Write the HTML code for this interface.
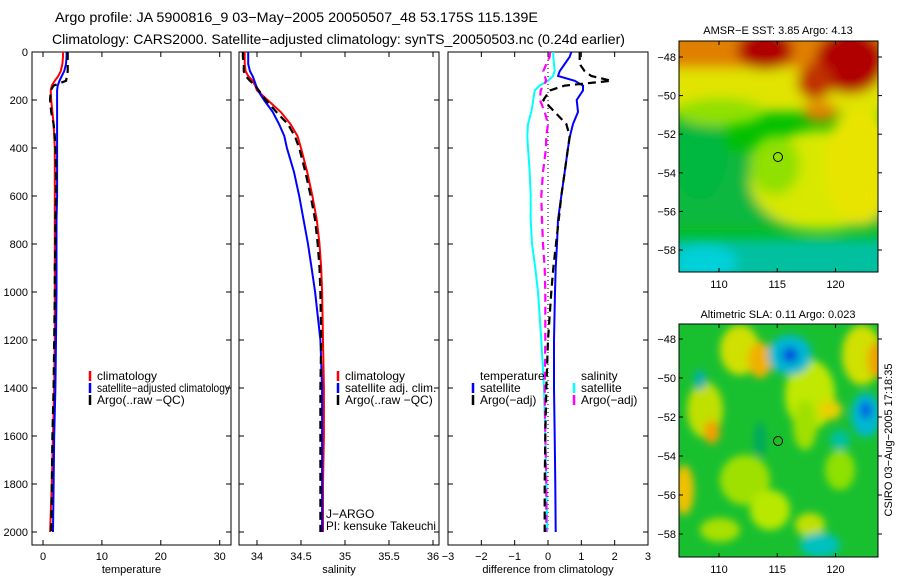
<!DOCTYPE html>
<html><head><meta charset="utf-8"><style>
html,body{margin:0;padding:0;background:#fff;}
svg{display:block;font-family:"Liberation Sans",sans-serif;}
</style></head><body>
<svg id="fig" width="900" height="580" viewBox="0 0 900 580" xmlns="http://www.w3.org/2000/svg">
<defs>
<filter id="blur1" x="-20%" y="-20%" width="140%" height="140%"><feGaussianBlur stdDeviation="6"/></filter>
<filter id="blur2" x="-20%" y="-20%" width="140%" height="140%"><feGaussianBlur stdDeviation="4"/></filter>
<clipPath id="clipMap1"><rect x="679" y="41" width="199" height="231"/></clipPath>
<clipPath id="clipMap2"><rect x="679" y="324" width="199" height="233"/></clipPath>
<clipPath id="clipP1"><rect x="32" y="52" width="199" height="493"/></clipPath>
<clipPath id="clipP2"><rect x="239" y="52" width="200" height="493"/></clipPath>
<clipPath id="clipP3"><rect x="448" y="52" width="200" height="493"/></clipPath>
</defs>
<text x="55" y="22" font-size="14" textLength="483" lengthAdjust="spacingAndGlyphs">Argo profile: JA 5900816_9 03−May−2005 20050507_48 53.175S 115.139E</text>
<text x="52" y="44" font-size="14" textLength="573" lengthAdjust="spacingAndGlyphs">Climatology: CARS2000. Satellite−adjusted climatology: synTS_20050503.nc (0.24d earlier)</text>

<!-- top map: SST -->
<g clip-path="url(#clipMap1)">
<rect x="679" y="41" width="199" height="231" fill="#00c000"/>
<g filter="url(#blur1)">
<rect x="660" y="150" width="240" height="80" fill="#10b840"/>
<ellipse cx="820" cy="180" rx="70" ry="50" fill="#d8e800"/>
<ellipse cx="860" cy="165" rx="35" ry="60" fill="#e8e400"/>
<ellipse cx="775" cy="165" rx="25" ry="30" fill="#90e000"/>
<ellipse cx="700" cy="150" rx="28" ry="50" fill="#00b840"/>
<rect x="660" y="62" width="240" height="50" fill="#e0e400"/>
<ellipse cx="720" cy="112" rx="45" ry="14" fill="#90e000"/>
<rect x="660" y="30" width="240" height="38" fill="#e08000"/>
<ellipse cx="765" cy="50" rx="28" ry="20" fill="#b00000"/>
<ellipse cx="850" cy="62" rx="35" ry="32" fill="#b00000"/>
<ellipse cx="815" cy="82" rx="18" ry="18" fill="#c03000"/>
<ellipse cx="820" cy="112" rx="18" ry="10" fill="#e08000"/>
<rect x="660" y="238" width="240" height="50" fill="#00c0a0"/>
<ellipse cx="705" cy="262" rx="32" ry="18" fill="#00d0d8"/>
</g>
</g>
<rect x="679" y="41" width="199" height="231" fill="none" stroke="#000" stroke-width="1"/>
<circle cx="778" cy="157" r="4.5" fill="none" stroke="#000" stroke-width="1"/>
<text x="778" y="34" font-size="11" text-anchor="middle">AMSR−E SST: 3.85 Argo: 4.13</text>

<!-- bottom map: SLA -->
<g clip-path="url(#clipMap2)">
<rect x="679" y="324" width="199" height="233" fill="#18c030"/>
<g filter="url(#blur2)">
<ellipse cx="740" cy="350" rx="20" ry="25" fill="#d0e000"/>
<ellipse cx="760" cy="360" rx="12" ry="18" fill="#f0b000"/>
<ellipse cx="810" cy="395" rx="25" ry="35" fill="#c0e800"/>
<ellipse cx="805" cy="425" rx="12" ry="25" fill="#a0e000"/>
<ellipse cx="830" cy="410" rx="12" ry="10" fill="#e8d000"/>
<ellipse cx="862" cy="355" rx="20" ry="30" fill="#d0e000"/>
<ellipse cx="876" cy="360" rx="8" ry="18" fill="#f0a000"/>
<ellipse cx="705" cy="410" rx="18" ry="28" fill="#c0e000"/>
<ellipse cx="712" cy="432" rx="8" ry="12" fill="#f0a000"/>
<ellipse cx="684" cy="490" rx="10" ry="25" fill="#f0c000"/>
<ellipse cx="745" cy="480" rx="25" ry="25" fill="#a0e000"/>
<ellipse cx="770" cy="510" rx="20" ry="20" fill="#b8e800"/>
<ellipse cx="810" cy="525" rx="15" ry="12" fill="#c0e000"/>
<ellipse cx="840" cy="470" rx="15" ry="20" fill="#90e000"/>
<ellipse cx="720" cy="530" rx="20" ry="12" fill="#a8e000"/>
<ellipse cx="790" cy="355" rx="22" ry="20" fill="#00b8d0"/>
<ellipse cx="790" cy="355" rx="8" ry="8" fill="#0050e0"/>
<ellipse cx="866" cy="415" rx="15" ry="22" fill="#00b8d0"/>
<ellipse cx="866" cy="410" rx="6" ry="9" fill="#0060e0"/>
<ellipse cx="840" cy="440" rx="10" ry="10" fill="#00c0a0"/>
<ellipse cx="700" cy="380" rx="6" ry="10" fill="#00b0b0"/>
<ellipse cx="820" cy="545" rx="20" ry="12" fill="#00c0c0"/>
<ellipse cx="760" cy="440" rx="6" ry="18" fill="#00a860"/>
</g>
</g>
<rect x="679" y="324" width="199" height="233" fill="none" stroke="#000" stroke-width="1"/>
<circle cx="778" cy="441" r="4.5" fill="#20c020" stroke="#000" stroke-width="1"/>
<text x="778" y="318" font-size="11" text-anchor="middle">Altimetric SLA: 0.11 Argo: 0.023</text>
<text transform="translate(892,440) rotate(-90)" font-size="11" text-anchor="middle">CSIRO 03−Aug−2005 17:18:35</text>

<g id="dyn"></g>
</svg>
<script>
// ---- data (depth in dbar) ----
const depth = [0,20,50,80,100,120,140,160,200,250,300,350,400,500,600,700,800,900,1000,1200,1400,1600,1800,2000];
const tempClim = [3.4,3.4,3.3,3.0,2.6,2.0,1.5,1.3,1.4,1.6,1.8,1.9,2.0,2.0,2.0,2.0,2.0,2.0,2.0,2.0,1.9,1.7,1.5,1.2];
const tempSat = [4.0,4.0,3.9,3.6,3.2,2.8,2.5,2.4,2.4,2.4,2.4,2.4,2.4,2.4,2.4,2.3,2.3,2.3,2.3,2.2,2.1,1.9,1.8,1.7];
const tempArgo = [4.2,4.2,4.2,4.2,4.1,3.9,1.8,1.3,1.2,1.4,1.8,2.0,2.1,2.2,2.2,2.1,2.1,2.0,2.0,1.9,1.8,1.6,1.5,1.4];
const salClim = [33.86,33.86,33.86,33.87,33.9,33.95,33.98,34.0,34.12,34.27,34.38,34.46,34.5,34.57,34.63,34.68,34.71,34.73,34.74,34.75,34.76,34.76,34.75,34.75];
const salSat = [33.9,33.9,33.9,33.92,33.95,33.97,33.99,34.01,34.08,34.18,34.25,34.31,34.34,34.42,34.48,34.53,34.58,34.62,34.66,34.72,34.74,34.74,34.74,34.74];
const salArgo = [33.84,33.84,33.85,33.85,33.87,33.92,33.98,34.02,34.1,34.22,34.35,34.43,34.48,34.55,34.61,34.66,34.69,34.71,34.72,34.73,34.72,34.72,34.72,34.72];
const dTempSat = [0.7,0.65,0.5,0.35,0.3,0.8,1.05,1.05,0.86,0.9,0.75,0.66,0.6,0.5,0.4,0.3,0.27,0.23,0.21,0.18,0.18,0.2,0.22,0.23];
const dTempArgo = [0.95,0.95,0.95,1.1,1.3,1.9,0.5,0.06,-0.14,0.2,0.55,0.65,0.6,0.5,0.4,0.32,0.24,0.16,0.1,0.0,-0.05,-0.08,-0.1,-0.1];
const dSalSat = [0.16,0.16,0.18,0.2,0.15,0.0,-0.25,-0.4,-0.44,-0.5,-0.6,-0.62,-0.6,-0.55,-0.52,-0.52,-0.48,-0.38,-0.3,-0.2,-0.12,-0.08,-0.05,-0.02];
const dSalArgo = [0.06,0.05,-0.05,-0.14,-0.1,-0.05,-0.15,-0.22,-0.24,-0.1,0.0,-0.05,-0.06,-0.15,-0.2,-0.18,-0.15,-0.1,-0.08,-0.08,-0.1,-0.08,-0.05,-0.05];
const depthTicks = [0,200,400,600,800,1000,1200,1400,1600,1800,2000];
const tempTicks = [0,10,20,30];
const salTicks = [34,34.5,35,35.5,36];
const diffTicks = [-3,-2,-1,0,1,2,3];
const lonTicks = [110,115,120];
const latTicks = [-48,-50,-52,-54,-56,-58];

const NS = "http://www.w3.org/2000/svg";
const root = document.getElementById('dyn');
function mk(tag, attrs, parent) {
  const e = document.createElementNS(NS, tag);
  for (const k in attrs) e.setAttribute(k, attrs[k]);
  (parent || root).appendChild(e);
  return e;
}
const yD = d => 52 + 0.24 * d;
const xT = t => 43 + 5.89 * t;
const xS = s => 257 + 88 * (s - 34);
const xDf = v => 548 + 33.33 * v;

const panels = [
  {name:'temperature-panel', x0:32, x1:231, fx:xT, ticks:tempTicks, label:'temperature'},
  {name:'salinity-panel', x0:239, x1:439, fx:xS, ticks:salTicks, label:'salinity'},
  {name:'difference-panel', x0:448, x1:648, fx:xDf, ticks:diffTicks, label:'difference from climatology'}
];
panels.forEach((p, i) => {
  const g = mk('g', {});
  
  
  const fr = mk('rect', {x:p.x0, y:52, width:p.x1-p.x0, height:493, fill:'none', stroke:'#000', 'stroke-width':1}, g);
  
  
  depthTicks.forEach(d => {
    mk('line', {x1:p.x0, x2:p.x0+5, y1:yD(d), y2:yD(d), stroke:'#000'}, g);
    mk('line', {x1:p.x1-5, x2:p.x1, y1:yD(d), y2:yD(d), stroke:'#000'}, g);
    if (i === 0) {
      const t = mk('text', {x:28, y:yD(d)+4, 'font-size':11, 'text-anchor':'end'}, g);
      t.textContent = d;
      
      
    }
  });
  p.ticks.forEach(v => {
    const x = p.fx(v);
    mk('line', {x1:x, x2:x, y1:52, y2:57, stroke:'#000'}, g);
    mk('line', {x1:x, x2:x, y1:540, y2:545, stroke:'#000'}, g);
    const t = mk('text', {x:x, y:560, 'font-size':11, 'text-anchor':'middle'}, g);
    t.textContent = (v < 0 ? '−' + Math.abs(v) : String(v));
    
    
  });
  const lab = mk('text', {x:(p.x0+p.x1)/2, y:573, 'font-size':11, 'text-anchor':'middle'}, g);
  lab.textContent = p.label;
  
  
});

function series(vals, fx, color, dash, width, clip, name) {
  const pts = vals.map((v, k) => fx(v).toFixed(1) + ',' + yD(depth[k]).toFixed(1)).join(' ');
  const a = {points:pts, fill:'none', stroke:color, 'stroke-width':width, 'clip-path':'url(#'+clip+')'};
  if (dash) a['stroke-dasharray'] = dash;
  const e = mk('polyline', a);
  
  
}
series(tempClim, xT, '#f00', null, 2, 'clipP1', 'temp-climatology-line');
series(tempSat, xT, '#00f', null, 2, 'clipP1', 'temp-satellite-line');
series(tempArgo, xT, '#000', '8,5', 2.2, 'clipP1', 'temp-argo-line');
series(salClim, xS, '#f00', null, 2, 'clipP2', 'sal-climatology-line');
series(salSat, xS, '#00f', null, 2, 'clipP2', 'sal-satellite-line');
series(salArgo, xS, '#000', '8,5', 2.2, 'clipP2', 'sal-argo-line');
const zl = mk('line', {x1:xDf(0), x2:xDf(0), y1:yD(0), y2:yD(2000), stroke:'#000', 'stroke-width':1, 'stroke-dasharray':'1,3'});


series(dSalSat, xDf, '#0ff', null, 2, 'clipP3', 'sal-satellite-diff-line');
series(dSalArgo, xDf, '#f0f', '8,5', 2.2, 'clipP3', 'sal-argo-diff-line');
series(dTempSat, xDf, '#00f', null, 2, 'clipP3', 'temp-satellite-diff-line');
series(dTempArgo, xDf, '#000', '8,5', 2.2, 'clipP3', 'temp-argo-diff-line');

function legend(x, y, color, text, name, tl) {
  const g = mk('g', {});
  
  
  if (color) mk('line', {x1:x, x2:x, y1:y-9, y2:y+1, stroke:color, 'stroke-width':2.5}, g);
  const a = {x:x+7, y:y, 'font-size':12};
  if (tl) { a.textLength = tl; a.lengthAdjust = 'spacingAndGlyphs'; }
  const t = mk('text', a, g);
  t.textContent = text;
}
legend(90, 380, '#f00', 'climatology', 'legend-entry-climatology');
legend(90, 392, '#00f', 'satellite−adjusted climatology', 'legend-entry-satellite-adjusted', 133);
legend(90, 404, '#000', 'Argo(..raw −QC)', 'legend-entry-argo');
legend(338, 380, '#f00', 'climatology', 'legend-entry-sal-climatology');
legend(338, 392, '#00f', 'satellite adj. clim.', 'legend-entry-sal-satellite');
legend(338, 404, '#000', 'Argo(..raw −QC)', 'legend-entry-sal-argo');
legend(473, 380, null, 'temperature', 'legend-header-temperature');
legend(473, 392, '#00f', 'satellite', 'legend-entry-temp-satellite');
legend(473, 404, '#000', 'Argo(−adj)', 'legend-entry-temp-argo');
legend(574, 380, null, 'salinity', 'legend-header-salinity');
legend(574, 392, '#0ff', 'satellite', 'legend-entry-sal-sat');
legend(574, 404, '#f0f', 'Argo(−adj)', 'legend-entry-sal-argo-diff');
const j1 = mk('text', {x:326, y:518, 'font-size':12});
j1.textContent = 'J−ARGO';


const j2 = mk('text', {x:326, y:530, 'font-size':12, textLength:110, lengthAdjust:'spacingAndGlyphs'});
j2.textContent = 'PI: kensuke Takeuchi';



const maps = [{top:41, bot:272, lat48:57, latStep:19.3}, {top:324, bot:557, lat48:339, latStep:19.5}];
const xLon = lon => 719 + 11.65 * (lon - 110);
maps.forEach(m => {
  lonTicks.forEach(lon => {
    const x = xLon(lon);
    mk('line', {x1:x, x2:x, y1:m.top, y2:m.top+4, stroke:'#000'});
    mk('line', {x1:x, x2:x, y1:m.bot-4, y2:m.bot, stroke:'#000'});
    const t = mk('text', {x:x, y:m.bot+16, 'font-size':11, 'text-anchor':'middle'});
    t.textContent = lon;
    
    
  });
  latTicks.forEach(lat => {
    const y = m.lat48 + (-48 - lat) * m.latStep;
    mk('line', {x1:679, x2:683, y1:y, y2:y, stroke:'#000'});
    mk('line', {x1:878, x2:882, y1:y, y2:y, stroke:'#000'});
    const t = mk('text', {x:676, y:y+4, 'font-size':11, 'text-anchor':'end'});
    t.textContent = '−' + Math.abs(lat);
    
    
  });
});
</script>
</body></html>
